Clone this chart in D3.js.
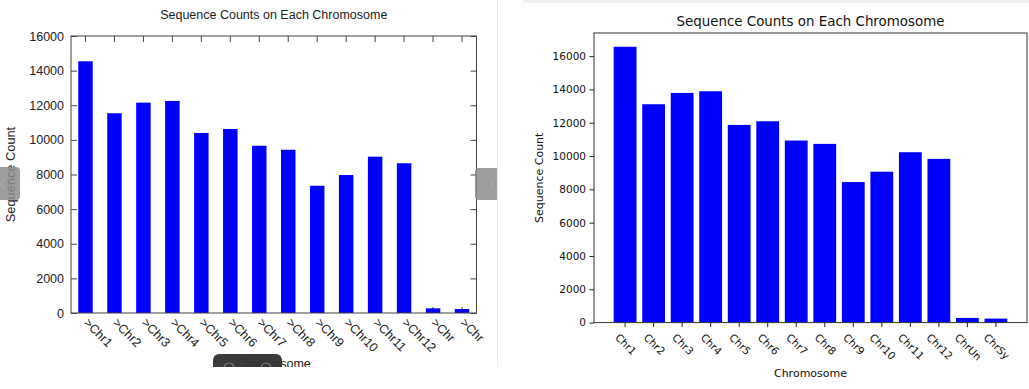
<!DOCTYPE html>
<html>
<head>
<meta charset="utf-8">
<script src="https://cdn.jsdelivr.net/npm/d3@7"></script>
<style>
	body { margin: 0; background: #fff; }
	svg { display: block; }
</style>
</head>
<body>
<svg id="chart" width="1029" height="389"></svg>
<script>
// left panel (older export, labels keep the ">" of the fasta header)
var leftNames = [">Chr1", ">Chr2", ">Chr3", ">Chr4", ">Chr5", ">Chr6", ">Chr7",
	">Chr8", ">Chr9", ">Chr10", ">Chr11", ">Chr12", ">Chr", ">Chr"];
var leftCounts = [14540, 11540, 12150, 12250, 10400, 10630, 9660,
	9430, 7350, 7970, 9030, 8650, 270, 230];
var leftTicks = [0, 2000, 4000, 6000, 8000, 10000, 12000, 14000, 16000];

// right panel
var rightNames = ["Chr1", "Chr2", "Chr3", "Chr4", "Chr5", "Chr6", "Chr7",
	"Chr8", "Chr9", "Chr10", "Chr11", "Chr12", "ChrUn", "ChrSy"];
var rightCounts = [16560, 13110, 13790, 13890, 11870, 12090, 10930,
	10730, 8440, 9060, 10230, 9830, 280, 240];
var rightTicks = [0, 2000, 4000, 6000, 8000, 10000, 12000, 14000, 16000];

var titleText = "Sequence Counts on Each Chromosome",
	xTitle = "Chromosome",
	yTitle = "Sequence Count";

var plain = d3.format("d");

var svg = d3.select("#chart");
svg.append("rect").attr("width", 1029).attr("height", 389).attr("fill", "#fff");

var defs = svg.append("defs");
defs.append("clipPath").attr("id", "clipLeft")
	.append("rect").attr("x", 0).attr("y", 0).attr("width", 497).attr("height", 367);

// ---------- left chart ----------
var L = svg.append("g").attr("clip-path", "url(#clipLeft)"),
	lm = {left: 71, right: 476.5, top: 36, bottom: 313},
	lFont = "Liberation Sans, Arial, sans-serif",
	lInk = "#222";

var xL = d3.scaleBand()
	.domain(d3.range(leftNames.length))
	.range([lm.left, lm.right])
	.paddingInner(0.5)
	.paddingOuter(0.25);

var yL = d3.scaleLinear()
	.domain([0, 16000])
	.range([lm.bottom, lm.top]);

// inward ticks on all four sides
L.append("g")
	.attr("transform", "translate(0," + lm.bottom + ")")
	.call(d3.axisBottom(xL).tickSize(-6).tickFormat(""));
L.append("g")
	.attr("transform", "translate(0," + lm.top + ")")
	.call(d3.axisTop(xL).tickSize(-6).tickFormat(""));
L.append("g")
	.attr("transform", "translate(" + lm.right + ",0)")
	.call(d3.axisRight(yL).tickValues(leftTicks).tickSize(-6).tickFormat(""));
var lyAxis = L.append("g")
	.attr("class", "ly")
	.attr("transform", "translate(" + lm.left + ",0)")
	.call(d3.axisLeft(yL).tickValues(leftTicks).tickFormat(plain).tickSize(-6).tickPadding(7));
L.selectAll(".domain").remove();
L.selectAll(".tick line").attr("stroke", "#404040");
lyAxis.selectAll("text")
	.attr("font-family", lFont)
	.attr("font-size", "12.5px")
	.attr("fill", lInk);

L.selectAll("rect.bar")
	.data(leftCounts)
	.enter().append("rect")
	.attr("class", "bar")
	.attr("x", function(d, i) { return xL(i); })
	.attr("y", function(d) { return yL(d); })
	.attr("width", xL.bandwidth())
	.attr("height", function(d) { return yL(0) - yL(d); })
	.attr("fill", "#0000ff");

L.append("rect")
	.attr("x", lm.left).attr("y", lm.top)
	.attr("width", lm.right - lm.left).attr("height", lm.bottom - lm.top)
	.attr("fill", "none").attr("stroke", "#404040").attr("stroke-width", 1);

// x labels start at the tick and run down to the right
L.selectAll("text.xl")
	.data(leftNames)
	.enter().append("text")
	.attr("class", "xl")
	.attr("transform", function(d, i) {
		return "translate(" + (xL(i) + xL.bandwidth() / 2 - 2.5) + "," + (lm.bottom + 10.5) + ") rotate(45)";
	})
	.attr("font-family", lFont)
	.attr("font-size", "12.5px")
	.attr("fill", lInk)
	.text(function(d) { return d; });

L.append("text")
	.attr("x", (lm.left + lm.right) / 2).attr("y", 19)
	.attr("text-anchor", "middle")
	.attr("font-family", lFont).attr("font-size", "12.5px").attr("fill", lInk)
	.text(titleText);

L.append("text")
	.attr("transform", "translate(10.3," + ((lm.top + lm.bottom) / 2) + ") rotate(-90)")
	.attr("dy", "0.35em")
	.attr("text-anchor", "middle")
	.attr("font-family", lFont).attr("font-size", "12.8px").attr("fill", lInk)
	.text(yTitle);

L.append("text")
	.attr("x", (lm.left + lm.right) / 2 - 0.5).attr("y", 368)
	.attr("text-anchor", "middle")
	.attr("font-family", lFont).attr("font-size", "12.5px").attr("fill", lInk)
	.text(xTitle);

// viewer overlays on the left panel
L.append("rect")
	.attr("x", 213).attr("y", 354).attr("width", 69).attr("height", 30).attr("rx", 6)
	.attr("fill", "rgba(50,50,50,0.96)");
[229, 266].forEach(function(cx) {
	L.append("circle").attr("cx", cx).attr("cy", 368).attr("r", 5)
		.attr("fill", "none").attr("stroke", "#7a7a7a").attr("stroke-width", 1.2);
});
L.append("rect")
	.attr("x", -8).attr("y", 167).attr("width", 28).attr("height", 33).attr("rx", 4)
	.attr("fill", "rgba(140,140,140,0.85)");
L.append("rect")
	.attr("x", 475).attr("y", 168).attr("width", 30).attr("height", 32).attr("rx", 4)
	.attr("fill", "rgba(140,140,140,0.85)");
L.append("path").attr("d", "M4,178 L1,184 L4,190")
	.attr("fill", "none").attr("stroke", "#b0b0b0").attr("stroke-width", 1);
L.append("path").attr("d", "M490,178 L493,184 L490,190")
	.attr("fill", "none").attr("stroke", "#b0b0b0").attr("stroke-width", 1);

svg.append("line")
	.attr("x1", 497.5).attr("x2", 497.5).attr("y1", 0).attr("y2", 367)
	.attr("stroke", "#e8e8e8").attr("stroke-width", 1);
svg.append("rect")
	.attr("x", 523).attr("y", 0).attr("width", 506).attr("height", 3)
	.attr("fill", "#f2f2f2");

// ---------- right chart ----------
var R = svg.append("g"),
	rm = {left: 594, right: 1027, top: 33, bottom: 322.6},
	rFont = "DejaVu Sans, sans-serif";

var xR = d3.scaleBand()
	.domain(d3.range(rightNames.length))
	.range([rm.left, rm.right])
	.paddingInner(0.2)
	.paddingOuter(0.69);

var yR = d3.scaleLinear()
	.domain([0, d3.max(rightCounts) * 1.05])
	.range([rm.bottom, rm.top]);

R.selectAll("rect.bar")
	.data(rightCounts)
	.enter().append("rect")
	.attr("class", "bar")
	.attr("x", function(d, i) { return xR(i); })
	.attr("y", function(d) { return yR(d); })
	.attr("width", xR.bandwidth())
	.attr("height", function(d) { return yR(0) - yR(d); })
	.attr("fill", "#0000ff");

var ryAxis = R.append("g")
	.attr("transform", "translate(" + rm.left + ",0)")
	.call(d3.axisLeft(yR).tickValues(rightTicks).tickFormat(plain).tickSize(4.5).tickPadding(3.5));
var rxAxis = R.append("g")
	.attr("transform", "translate(0," + rm.bottom + ")")
	.call(d3.axisBottom(xR).tickSize(4.5).tickFormat(""));
R.selectAll(".domain").remove();
R.selectAll(".tick line").attr("stroke", "#222");
ryAxis.selectAll("text")
	.attr("font-family", rFont)
	.attr("font-size", "10.5px")
	.attr("fill", "#111");

R.append("rect")
	.attr("x", rm.left).attr("y", rm.top)
	.attr("width", rm.right - rm.left).attr("height", rm.bottom - rm.top)
	.attr("fill", "none").attr("stroke", "#333").attr("stroke-width", 1);

// rotated labels: centre the rotated box under each tick, like matplotlib does
var rLabels = R.selectAll("g.xl")
	.data(rightNames)
	.enter().append("g")
	.attr("class", "xl")
	.attr("transform", function(d, i) {
		return "translate(" + (xR(i) + xR.bandwidth() / 2 + 1) + "," + (rm.bottom + 8.5) + ")";
	});
rLabels.append("text")
	.attr("transform", "rotate(45)")
	.attr("font-family", rFont)
	.attr("font-size", "10.5px")
	.attr("fill", "#111")
	.text(function(d) { return d; });
rLabels.each(function() {
	var bb = this.getBBox();
	d3.select(this).select("text")
		.attr("transform", "translate(" + (-(bb.x + bb.width / 2)) + "," + (-bb.y) + ") rotate(45)");
});

R.append("text")
	.attr("x", (rm.left + rm.right) / 2).attr("y", 26)
	.attr("text-anchor", "middle")
	.attr("font-family", rFont).attr("font-size", "13.4px").attr("fill", "#111")
	.text(titleText);

R.append("text")
	.attr("x", (rm.left + rm.right) / 2).attr("y", 377)
	.attr("text-anchor", "middle")
	.attr("font-family", rFont).attr("font-size", "11px").attr("fill", "#111")
	.text(xTitle);

R.append("text")
	.attr("transform", "translate(539.3," + ((rm.top + rm.bottom) / 2) + ") rotate(-90)")
	.attr("dy", "0.35em")
	.attr("text-anchor", "middle")
	.attr("font-family", rFont).attr("font-size", "11px").attr("fill", "#111")
	.text(yTitle);
</script>
</body>
</html>
